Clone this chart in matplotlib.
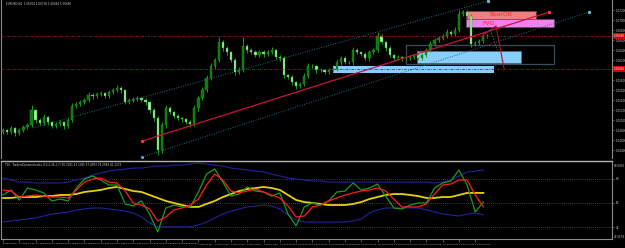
"""EURUSD H4 chart with SMC zones and TDI sub-window, MT4 dark style."""
import numpy as np
import matplotlib
matplotlib.use("Agg")
import matplotlib.pyplot as plt
from matplotlib.patches import Rectangle
from matplotlib.ticker import FormatStrFormatter

BG = "black"; FG = "#C8C8C8"; EDGE = "#8C8C8C"
BULL = "#0B7A0B"; BEAR = "#A8F0A8"; WICK = "#1F9A1F"
LVL_RED = "#A01414"; TEAL = "#1F6F7F"; CRIMSON = "#C8143C"
SKY = "#87CEFA"; SALMON = "#F08080"; VIOLET = "#EE82EE"
TINY = 2.0   # axis text
XTINY = 1.7  # date labels

plt.rcParams.update({"font.family": "DejaVu Sans", "font.size": TINY})

# ---------------------------------------------------------------- price data
first_open = 1.0476
closes = [
    1.0480, 1.0476, 1.0484, 1.0474, 1.0480, 1.0486, 1.0490, 1.0520, 1.0500, 1.0494,
    1.0506, 1.0496, 1.0488, 1.0492, 1.0496, 1.0488, 1.0500, 1.0528, 1.0532, 1.0536,
    1.0540, 1.0550, 1.0548, 1.0552, 1.0554, 1.0548, 1.0556, 1.0560, 1.0564, 1.0560,
    1.0536, 1.0540, 1.0542, 1.0544, 1.0540, 1.0536, 1.0520, 1.0504, 1.0440, 1.0490,
    1.0524, 1.0516, 1.0508, 1.0504, 1.0502, 1.0496, 1.0492, 1.0524, 1.0544, 1.0560,
    1.0584, 1.0608, 1.0620, 1.0656, 1.0644, 1.0636, 1.0620, 1.0596, 1.0600, 1.0648,
    1.0640, 1.0636, 1.0630, 1.0636, 1.0632, 1.0636, 1.0640, 1.0626, 1.0624, 1.0590,
    1.0586, 1.0576, 1.0568, 1.0572, 1.0588, 1.0608, 1.0608, 1.0600, 1.0600, 1.0596,
    1.0600, 1.0602, 1.0616, 1.0624, 1.0616, 1.0616, 1.0640, 1.0636, 1.0632, 1.0624,
    1.0636, 1.0640, 1.0668, 1.0656, 1.0644, 1.0630, 1.0624, 1.0626, 1.0624, 1.0624,
    1.0626, 1.0630, 1.0624, 1.0630, 1.0640, 1.0652, 1.0660, 1.0664, 1.0668, 1.0676,
    1.0672, 1.0680, 1.0712, 1.0716, 1.0708, 1.0652, 1.0654, 1.0658, 1.0668, 1.0668,
]
# wick lengths above / below the body, in pips
wick_hi = [
    4, 3, 5, 3, 4, 5, 4, 10, 3, 4, 6, 3, 3, 4, 5, 3, 4, 6, 5, 4,
    5, 6, 4, 5, 4, 3, 5, 4, 6, 4, 3, 5, 4, 4, 3, 4, 3, 4, 5, 6,
    7, 4, 3, 4, 3, 3, 4, 6, 5, 6, 7, 6, 5, 10, 5, 4, 3, 5, 6, 18,
    4, 5, 4, 5, 4, 5, 6, 3, 4, 4, 3, 4, 3, 5, 6, 7, 4, 3, 4, 3,
    4, 5, 6, 5, 4, 3, 6, 4, 3, 4, 5, 5, 8, 4, 3, 4, 3, 4, 3, 3,
    4, 3, 4, 4, 5, 6, 5, 4, 5, 6, 4, 6, 8, 4, 5, 4, 5, 4, 6, 4,
]
wick_lo = [
    3, 4, 3, 5, 3, 4, 3, 4, 5, 4, 3, 5, 4, 3, 4, 5, 3, 4, 3, 4,
    3, 4, 5, 3, 4, 3, 4, 3, 4, 5, 4, 3, 4, 3, 4, 5, 6, 5, 10, 6,
    5, 4, 3, 4, 5, 4, 6, 4, 5, 3, 4, 3, 5, 4, 6, 5, 4, 5, 4, 3,
    5, 4, 3, 4, 5, 3, 4, 4, 5, 6, 4, 5, 6, 4, 3, 4, 3, 5, 4, 3,
    4, 3, 4, 5, 3, 4, 5, 4, 3, 4, 5, 4, 3, 4, 5, 4, 3, 4, 5, 3,
    4, 3, 4, 3, 4, 3, 4, 4, 3, 4, 3, 4, 3, 4, 5, 6, 4, 3, 4, 3,
]
date_labels = [
    "8 Sep 2023", "11 Sep 12:00", "12 Sep 20:00", "14 Sep 04:00", "15 Sep 12:00",
    "18 Sep 20:00", "20 Sep 04:00", "21 Sep 12:00", "22 Sep 20:00", "26 Sep 04:00",
    "27 Sep 12:00", "28 Sep 20:00", "2 Oct 04:00", "3 Oct 12:00", "4 Oct 20:00",
    "6 Oct 04:00", "9 Oct 12:00", "10 Oct 20:00", "12 Oct 04:00", "13 Oct 12:00",
    "16 Oct 20:00", "18 Oct 04:00", "19 Oct 12:00", "20 Oct 20:00", "24 Oct 04:00",
    "25 Oct 12:00", "26 Oct 20:00", "27 Oct 04:00", "27 Oct 12:00", "27 Oct 20:00",
]

# ---------------------------------------------------------------- drawings
h_levels = [1.0668, 1.0602]
trend_red = ([34.2, 134.2], [1.0458, 1.0716])
chan_upper = ([7.4, 119.2], [1.0484, 1.0738])
chan_lower = ([34.2, 144.0], [1.0426, 1.0716])
proj_path = ([117.9, 121.1, 123.1], [1.0670, 1.0688, 1.0602])
proj_dash = ([119.7, 121.4], [1.0680, 1.0640])
# zones: (bar0, bar1, price_lo, price_hi)
demand_wide = (81.1, 120.6, 1.0594, 1.0608)
demand_box = (101.7, 127.3, 1.0614, 1.0638)
outline_box = (99.0, 135.4, 1.0612, 1.0650)
bear_ob = (113.8, 131.0, 1.0702, 1.0718)
fvg = (113.8, 135.4, 1.0686, 1.0702)

# ---------------------------------------------------------------- TDI data (every 2nd bar)
tdi_bar = np.arange(0, 120, 2)
tdi_rsi = [
    55.9, 59.6, 52.2, 61.0, 59.6, 57.4, 51.5, 52.9, 51.5, 61.0,
    67.6, 69.9, 66.9, 63.2, 63.2, 49.3, 47.8, 51.5, 41.9, 28.7,
    46.3, 48.5, 47.1, 47.1, 58.1, 71.3, 75.0, 65.4, 55.1, 56.6,
    61.8, 58.8, 58.1, 55.1, 57.4, 41.9, 33.1, 47.1, 50.0, 48.5,
    51.5, 58.1, 58.8, 64.7, 59.6, 61.0, 64.0, 55.1, 46.3, 45.6,
    48.5, 50.0, 50.0, 61.0, 64.7, 66.2, 74.3, 63.2, 43.4, 50.7,
]
tdi_signal = [
    59.6, 58.8, 54.4, 55.1, 55.9, 55.1, 54.4, 54.4, 53.7, 59.6,
    65.4, 67.6, 68.4, 65.4, 64.7, 58.8, 50.0, 48.5, 45.6, 36.8,
    39.7, 44.9, 46.3, 48.5, 52.9, 63.2, 71.3, 66.9, 58.8, 57.4,
    58.8, 60.3, 58.1, 55.9, 53.7, 47.8, 39.7, 40.4, 47.1, 48.5,
    51.5, 53.7, 55.9, 57.4, 58.8, 59.6, 61.0, 58.8, 52.9, 47.1,
    47.1, 47.1, 49.3, 56.6, 63.2, 64.0, 66.9, 66.9, 55.9, 47.1,
]
tdi_base = [
    53.7, 53.7, 54.4, 54.4, 54.4, 55.1, 55.1, 55.9, 55.9, 56.6,
    58.1, 58.8, 59.6, 61.0, 61.8, 60.3, 58.8, 58.1, 55.9, 53.7,
    51.5, 50.0, 48.5, 47.1, 47.1, 49.3, 51.5, 54.4, 56.6, 58.8,
    60.3, 61.0, 61.8, 61.0, 59.6, 55.9, 52.2, 50.7, 50.0, 49.3,
    48.5, 48.5, 48.5, 49.3, 50.7, 52.9, 54.4, 55.9, 56.6, 56.6,
    55.9, 55.1, 53.7, 53.7, 54.4, 54.4, 55.9, 57.4, 57.4, 57.4,
]
tdi_upper = [
    68.4, 66.9, 65.4, 65.4, 64.7, 64.7, 64.7, 64.7, 65.4, 66.9,
    68.4, 70.6, 72.1, 73.5, 74.3, 75.0, 75.7, 75.7, 76.5, 77.2,
    77.2, 77.9, 77.9, 78.7, 79.4, 78.7, 77.9, 77.2, 75.7, 75.0,
    74.3, 73.5, 72.8, 71.3, 69.9, 68.4, 67.6, 66.9, 66.2, 66.2,
    65.4, 65.4, 65.4, 65.4, 65.4, 65.4, 65.4, 65.4, 65.4, 65.4,
    65.4, 65.4, 65.4, 64.7, 65.4, 66.9, 69.9, 72.8, 73.5, 74.3,
]
tdi_lower = [
    36.0, 36.8, 37.5, 38.2, 39.0, 40.4, 41.9, 42.6, 43.4, 44.9,
    45.6, 46.3, 46.3, 45.6, 44.9, 44.1, 42.6, 39.7, 35.3, 32.4,
    32.4, 32.4, 32.4, 32.4, 33.8, 36.0, 39.0, 41.9, 44.1, 45.6,
    47.1, 47.8, 48.5, 47.8, 45.6, 41.2, 37.5, 36.0, 36.0, 36.0,
    36.0, 36.0, 36.0, 36.8, 38.2, 42.6, 44.9, 46.3, 46.3, 46.3,
    46.3, 46.3, 44.9, 43.4, 41.9, 41.2, 40.4, 41.9, 42.6, 41.2,
]
tdi_levels = [32, 50, 68]

# ================================================================ layout
W, H = 625, 248
fig = plt.figure(figsize=(W / 100, H / 100), dpi=100, facecolor=BG)
ax = fig.add_axes([1 / W, 90 / H, 611 / W, 158 / H], facecolor=BG)
ax2 = fig.add_axes([1 / W, 9 / H, 611 / W, 78 / H], facecolor=BG)
XLIM = (-0.5, 149.6)

# ================================================================ candles
c = np.array(closes)
o = np.array([first_open] + closes[:-1])
hi = np.maximum(o, c) + np.array(wick_hi) * 1e-4
lo = np.minimum(o, c) - np.array(wick_lo) * 1e-4
bars = np.arange(len(c))
up = c >= o
body = np.maximum(np.abs(c - o), 0.00008)
ax.vlines(bars, lo, hi, color=WICK, lw=0.7, zorder=3)
ax.bar(bars[up], body[up], bottom=o[up], width=0.55, color=BULL,
       edgecolor=WICK, lw=0.3, zorder=4)
ax.bar(bars[~up], body[~up], bottom=c[~up], width=0.55, color=BEAR,
       edgecolor=WICK, lw=0.3, zorder=4)

# zones
def zone(z, **kw):
    ax.add_patch(Rectangle((z[0], z[2]), z[1] - z[0], z[3] - z[2], **kw))

zone(demand_wide, facecolor=SKY, edgecolor="none", zorder=1)
zone(demand_box, facecolor=SKY, edgecolor="#5A6A7A", lw=0.5, zorder=1)
zone(outline_box, facecolor="none", edgecolor="#3C4C5C", lw=0.9, zorder=2)
zone(bear_ob, facecolor=SALMON, edgecolor="#505050", lw=0.4, zorder=1)
zone(fvg, facecolor=VIOLET, edgecolor="#505050", lw=0.4, zorder=1)
ax.text((bear_ob[0] + bear_ob[1]) / 2, (bear_ob[2] + bear_ob[3]) / 2, "BearOB",
        color="#FF2A2A", fontsize=4.3, ha="center", va="center", zorder=6)
ax.text(fvg[0] + 5.5, (fvg[2] + fvg[3]) / 2, "FVG",
        color="#FF2A2A", fontsize=4.3, ha="center", va="center", zorder=6)

# lines
for lv in h_levels:
    ax.axhline(lv, color=LVL_RED, lw=0.6, ls=(0, (3, 1.5, 1, 1.5)), zorder=5)
ax.plot(*chan_upper, color=TEAL, lw=0.7, ls=(0, (1, 1.5)), zorder=2)
ax.plot(*chan_lower, color=TEAL, lw=0.7, ls=(0, (1, 1.5)), zorder=2)
ax.plot(chan_upper[0][1], chan_upper[1][1], "s", color="#6FB8D8", ms=1.2, zorder=6)
ax.plot(chan_lower[0][1], chan_lower[1][1], "s", color="#6FB8D8", ms=1.2, zorder=6)
ax.plot(chan_lower[0][0], chan_lower[1][0], "s", color="#6FB8D8", ms=1.0, zorder=6)
ax.plot(*trend_red, color=CRIMSON, lw=0.9, zorder=5)
ax.plot(trend_red[0][0], trend_red[1][0], "s", color="#FF3050", ms=1.2, zorder=6)
ax.plot(trend_red[0][1], trend_red[1][1], "s", color="#FF3050", ms=1.2, zorder=6)
ax.plot(*proj_path, color="#B01030", lw=0.8, zorder=5)
ax.plot(*proj_dash, color="#606060", lw=0.6, ls=(0, (2, 1.5)), zorder=5)

ax.set_xlim(*XLIM)
ax.set_ylim(1.0424, 1.0740)
ax.set_xticks([])
ax.yaxis.tick_right()
# price scale; the red level tags hide the tick labels right next to them
yt = np.arange(1.0440, 1.07201, 0.0020)
yt = [t for t in yt if min(abs(t - lv) for lv in h_levels) > 0.0005]
ax.set_yticks(yt)
ax.yaxis.set_major_formatter(FormatStrFormatter("%.5f"))
ax.tick_params(axis="y", colors=EDGE, labelcolor=FG, labelsize=TINY,
               length=1.5, width=0.4, pad=1.0)
for lv in h_levels:
    ax.text(1.0025, lv, f"{lv:.5f}", transform=ax.get_yaxis_transform(),
            color="white", fontsize=TINY, va="center", ha="left", zorder=7,
            clip_on=False, bbox=dict(facecolor="#D00000", edgecolor="none", pad=0.4))
for side in ("top", "bottom"):
    ax.spines[side].set_visible(False)
for side in ("left", "right"):
    ax.spines[side].set_color(EDGE)
    ax.spines[side].set_linewidth(0.8)
fig.text(6 / W, 1 - 4 / H, "EURUSD,H4  1.06704 1.06718 1.06664 1.06680",
         color=FG, fontsize=TINY, va="center")

# ================================================================ TDI window
for lv in tdi_levels:
    ax2.axhline(lv, color="#7A7A7A", lw=0.5, ls=(0, (1, 2)), zorder=1)
ax2.plot(tdi_bar, tdi_upper, color="#22229A", lw=0.8, zorder=2)
ax2.plot(tdi_bar, tdi_lower, color="#22229A", lw=0.8, zorder=2)
ax2.plot(tdi_bar, tdi_base, color="#E6D200", lw=1.3, zorder=3)
ax2.plot(tdi_bar, tdi_rsi, color="#1E9A1E", lw=0.9, zorder=4)
ax2.plot(tdi_bar, tdi_signal, color="#FF1E1E", lw=0.9, zorder=5)
ax2.set_xlim(*XLIM)
ax2.set_ylim(23.5, 80.9)
ax2.yaxis.tick_right()
ax2.set_yticks(tdi_levels)
ax2.set_yticklabels([str(v) for v in tdi_levels])
ax2.tick_params(axis="y", colors=EDGE, labelcolor=FG, labelsize=TINY,
                length=1.5, width=0.4, pad=1.0)
ax2.set_xticks(np.arange(0, 4 * len(date_labels), 4))
ax2.set_xticklabels(date_labels, ha="left")
ax2.tick_params(axis="x", colors=EDGE, labelcolor=FG, labelsize=XTINY,
                length=2, width=0.4, pad=1.2)
ax2.spines["top"].set_color("#B4B4B4")
ax2.spines["top"].set_linewidth(1.0)
for side in ("left", "right", "bottom"):
    ax2.spines[side].set_color(EDGE)
    ax2.spines[side].set_linewidth(0.8)
ax2.text(1.003, 0.94, "80.9470", transform=ax2.transAxes, color=FG,
         fontsize=TINY, va="center", clip_on=False)
ax2.text(1.003, 0.03, "23.5196", transform=ax2.transAxes, color=FG,
         fontsize=TINY, va="center", clip_on=False)
ax2.text(0.006, 0.97, "TDI - TradersDynamicIndex (13,2,34,2,7) 50.7281 47.1045 57.4093 74.2983 41.2273",
         transform=ax2.transAxes, color=FG, fontsize=TINY, va="top")

fig.savefig("out.png", dpi=100, facecolor=BG)
